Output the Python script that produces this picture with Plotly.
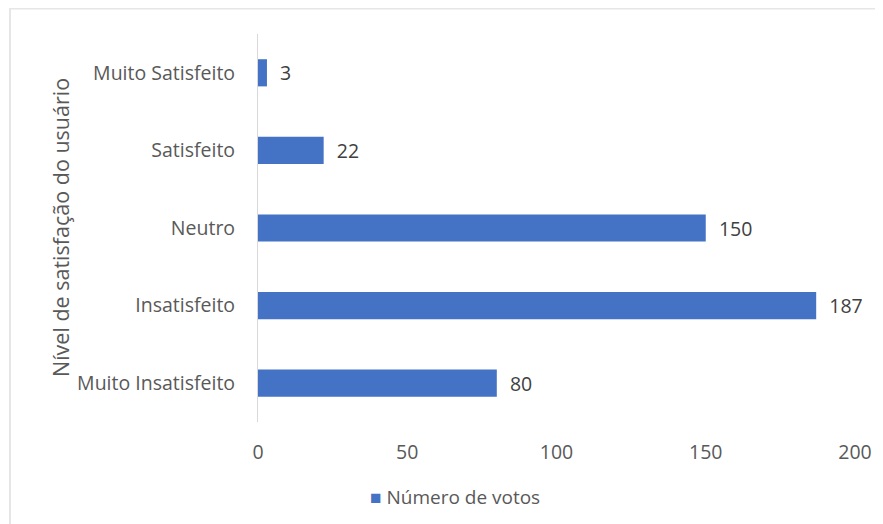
import plotly.graph_objects as go

categories = ["Muito Insatisfeito", "Insatisfeito", "Neutro", "Satisfeito", "Muito Satisfeito"]
votes = [80, 187, 150, 22, 3]
series_name = "Número de votos"
x_ticks = [0, 50, 100, 150, 200]
y_title = "Nível de satisfação do usuário"

# page has an 8px body margin; figure is sized so that page coords match reference
OFF = 8
W, H = 883 - OFF, 524 - OFF
px0, px1 = 258 - OFF, 855 - OFF      # plot area x (figure px)
py0, py1 = 34 - OFF, 422 - OFF       # plot area y (figure px)
L, R, T, B = px0, W - px1, py0, H - py1
pw, ph = px1 - px0, py1 - py0

def fx(page_x):
    return (page_x - OFF - px0) / pw

def fy(page_y):
    return (py1 - (page_y - OFF)) / ph

font_family = "'Open Sans', Lato, sans-serif"
grey = "#595959"
bar_color = "#4472C4"
fs = 19.5

fig = go.Figure(go.Bar(
    y=categories, x=votes, orientation="h", name=series_name,
    marker=dict(color=bar_color, line=dict(width=0)), width=0.35,
    text=votes, texttemplate="  %{text}", textposition="outside", cliponaxis=False,
    textfont=dict(size=fs, color="#404040", family=font_family),
    showlegend=False,
))

fig.update_layout(
    width=W, height=H,
    margin=dict(l=L, r=R, t=T, b=B, autoexpand=False),
    paper_bgcolor="white", plot_bgcolor="white",
    font=dict(family=font_family, size=fs, color=grey),
    xaxis=dict(range=[0, 200], tickvals=x_ticks, showgrid=False, zeroline=False,
               showline=False, ticks="", ticklabelstandoff=16,
               tickfont=dict(size=fs, color=grey)),
    yaxis=dict(categoryorder="array", categoryarray=categories, showgrid=False,
               showline=True, linecolor="#d9d9d9", linewidth=1, ticks="",
               ticklabelstandoff=18, tickfont=dict(size=fs, color=grey),
               range=[-0.5, 4.5]),
)

fig.add_annotation(text=y_title, textangle=-90, xref="paper", yref="paper",
                   x=fx(60), y=fy(228), showarrow=False,
                   font=dict(size=21.5, color=grey), xanchor="center", yanchor="middle")

# legend drawn as text: coloured square + series name
fig.add_annotation(text=f"<span style='color:{bar_color}'>■</span> {series_name}",
                   xref="paper", yref="paper", x=fx(368), y=fy(497),
                   xanchor="left", yanchor="middle", showarrow=False,
                   font=dict(size=19, color=grey))

# outer chart border (light)
fig.add_shape(type="line", xref="paper", yref="paper",
              x0=fx(9), x1=fx(883), y0=fy(8.5), y1=fy(8.5),
              line=dict(color="#e6e6e6", width=2))
fig.add_shape(type="line", xref="paper", yref="paper",
              x0=fx(10), x1=fx(10), y0=fy(8), y1=fy(524),
              line=dict(color="#e6e6e6", width=2))

fig.write_html("out.html")
